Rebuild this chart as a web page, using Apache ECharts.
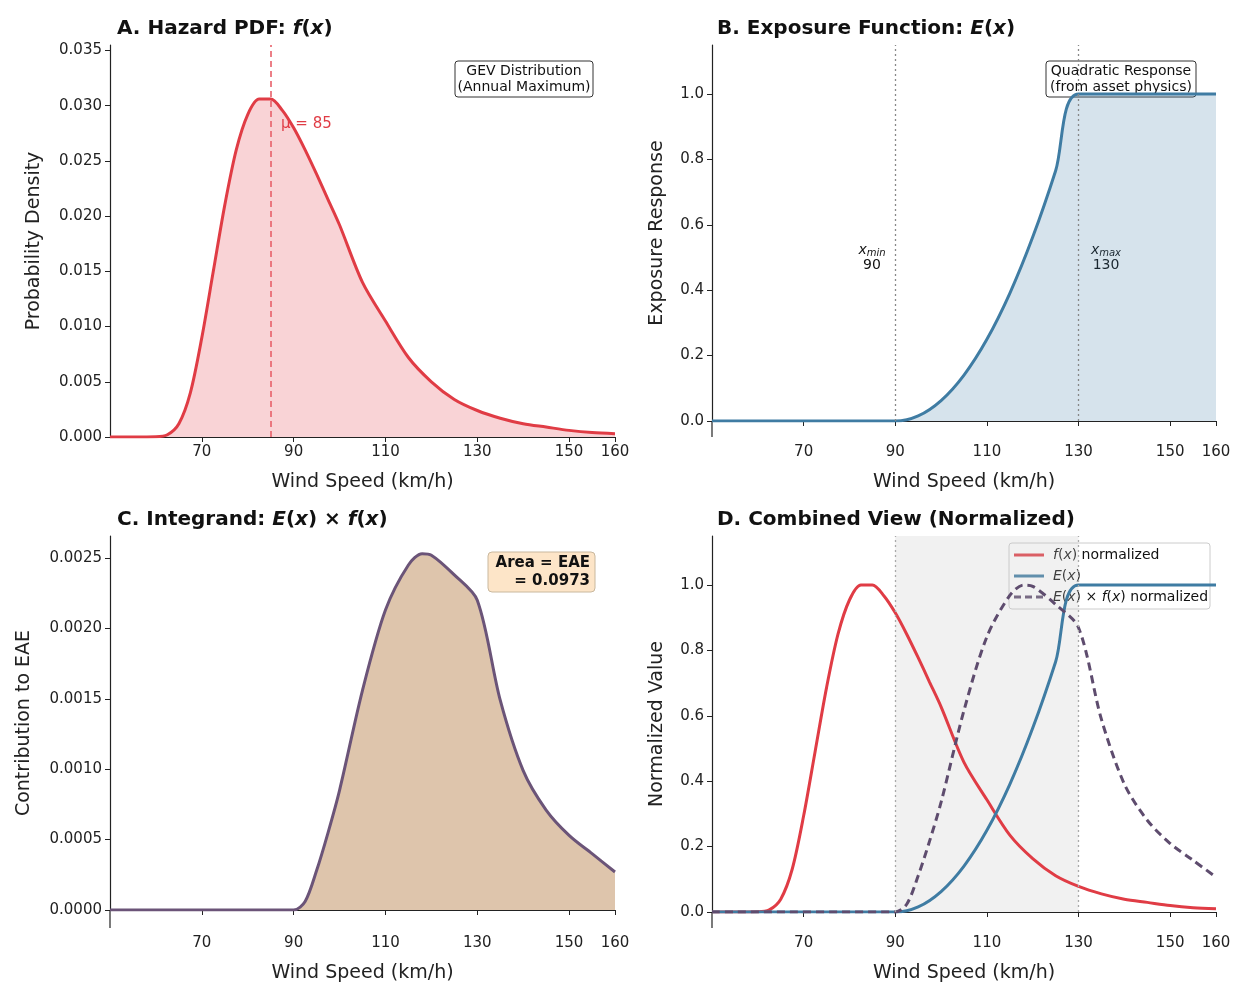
<!DOCTYPE html>
<html><head><meta charset="utf-8">
<script src="https://cdn.jsdelivr.net/npm/echarts@6/dist/echarts.min.js"></script>
<style>html,body{margin:0;background:#fff}#c{width:1250px;height:1000px}</style>
</head><body><div id="c"></div>
<script>
const hazardX = [50,55,60,62.5,65,67.5,70,72.5,75,77.5,80,82.5,85,87.5,90,92.5,95,97.5,100,105,110,115,120,125,130,135,140,145,150,155,160];
const hazardPdf = [0,0,0.00002,0.0002,0.0012,0.0040,0.0090,0.0150,0.0210,0.0260,0.0292,0.0306,0.0306,0.0296,0.0280,0.0260,0.0238,0.0215,0.0192,0.0140,0.0105,0.0072,0.0050,0.0034,0.0024,0.0017,0.0012,0.0009,0.0006,0.0004,0.0003];
const exposureX = [50,90,95,100,105,110,115,120,125,130,160];
const exposure = [0,0,0.0156,0.0625,0.1406,0.25,0.3906,0.5625,0.7656,1,1];
const integrandX = [50,90,92.5,95,97.5,100,105,110,115,118,120,125,130,135,140,145,150,155,160];
const integrand = [0,0,0.00006,0.00028,0.00055,0.00085,0.00156,0.00213,0.00245,0.00253,0.00252,0.00238,0.0022,0.00149,0.00099,0.00071,0.00053,0.0004,0.00027];
const muValue = 85, xMin = 90, xMax = 130;

const pairs = (xs, ys) => xs.map((x, i) => [x, ys[i]]);
const fMax = Math.max(...hazardPdf), iMax = Math.max(...integrand);
const fNorm = hazardPdf.map(v => v / fMax);
const iNorm = integrand.map(v => v / iMax);

const FONT = 'DejaVu Sans';
const RED = '#e03c45', BLUE = '#3f7ca3', PURP = '#6b5478', GREY = '#888';
const grids = [
  {left:110, right:635, top:45, bottom:563},
  {left:712, right:34, top:45, bottom:579},
  {left:110, right:635, top:536, bottom:90},
  {left:712, right:34, top:536, bottom:88}
];
const xOffsets = [0,16,18,16];
const xAxes = grids.map((g,i) => ({
  type:'value', gridIndex:i, min:50, max:160, interval:20, offset:xOffsets[i],
  name:'Wind Speed (km/h)', nameLocation:'middle', nameGap:36,
  nameTextStyle:{fontFamily:FONT, fontSize:19, color:'#222'},
  axisLine:{lineStyle:{color:'#222', width:1.2}},
  axisTick:{length:5, lineStyle:{color:'#222'}},
  axisLabel:{fontFamily:FONT, fontSize:15, color:'#222', margin:8, formatter:v => v===50?'':v, showMinLabel:false},
  splitLine:{show:false}
}));
function yAx(i, max, interval, name, fmt, gap){
  return {type:'value', gridIndex:i, min:0, max:max, interval:interval,
    name:name, nameLocation:'middle', nameGap:gap,
    nameTextStyle:{fontFamily:FONT, fontSize:19, color:'#222'},
    axisLine:{show:true, lineStyle:{color:'#222', width:1.2}},
    axisTick:{show:true, length:5, lineStyle:{color:'#222'}},
    axisLabel:{fontFamily:FONT, fontSize:15, color:'#222', formatter:fmt, showMaxLabel:false},
    splitLine:{show:false}};
}
const yAxes = [
  yAx(0, 0.0355, 0.005, 'Probability Density', v=>v.toFixed(3), 66),
  yAx(1, 1.15, 0.2, 'Exposure Response', v=>v.toFixed(1), 45),
  yAx(2, 0.002656, 0.0005, 'Contribution to EAE', v=>v.toFixed(4), 76),
  yAx(3, 1.15, 0.2, 'Normalized Value', v=>v.toFixed(1), 45)
];
function vline(x, color, type, width){
  return {silent:true, symbol:'none', label:{show:false},
    lineStyle:{color:color, type:type, width:width}, data:[{xAxis:x}]};
}
const series = [
  {type:'line', xAxisIndex:0, yAxisIndex:0, data:pairs(hazardX,hazardPdf), smooth:0.3, symbol:'none',
   lineStyle:{color:RED, width:3}, areaStyle:{color:'rgba(230,60,70,0.32)'}, z:3,
   markLine:vline(muValue,'#e8606a',[6,4],1.6)},
  {type:'line', xAxisIndex:1, yAxisIndex:1, data:pairs(exposureX,exposure), smooth:0.3, symbol:'none',
   lineStyle:{color:BLUE, width:3}, areaStyle:{color:'rgba(63,124,163,0.3)', origin:'start'},
   markLine:{silent:true, symbol:'none', label:{show:false}, lineStyle:{color:GREY,type:[2,3],width:1.3}, data:[{xAxis:xMin},{xAxis:xMax}]}},
  {type:'line', xAxisIndex:2, yAxisIndex:2, data:pairs(integrandX,integrand), smooth:0.3, symbol:'none',
   lineStyle:{color:PURP, width:3}, areaStyle:{color:'rgba(190,140,90,0.72)'}},
  {type:'line', name:'fn', xAxisIndex:3, yAxisIndex:3, data:pairs(hazardX,fNorm), smooth:0.3, symbol:'none',
   lineStyle:{color:RED, width:3},
   markArea:{silent:true, itemStyle:{color:'rgba(200,200,200,0.25)'}, data:[[{xAxis:xMin},{xAxis:xMax}]]},
   markLine:{silent:true, symbol:'none', label:{show:false}, lineStyle:{color:'#aaa',type:[2,3],width:1.3}, data:[{xAxis:xMin},{xAxis:xMax}]}},
  {type:'line', name:'e', xAxisIndex:3, yAxisIndex:3, data:pairs(exposureX,exposure), smooth:0.3, symbol:'none',
   lineStyle:{color:BLUE, width:3}},
  {type:'line', name:'p', xAxisIndex:3, yAxisIndex:3, data:pairs(integrandX,iNorm), smooth:0.3, symbol:'none',
   lineStyle:{color:'#5e4c6e', width:3, type:[8,5]}}
];
const T = {fontFamily:FONT, fontSize:20, fontWeight:'bold', color:'#111'};
const TI = {fontFamily:FONT, fontSize:20, fontStyle:'italic', color:'#111'};
const TN = {fontFamily:FONT, fontSize:20, color:'#111'};
function title(left, top, rich, text){ return {text:text, left:left, top:top, textStyle:{rich:rich}}; }
const titles = [
  {text:'{b|A. Hazard PDF: }{i|f}{n|(}{i|x}{n|)}', left:112, top:14},
  {text:'{b|B. Exposure Function: }{i|E}{n|(}{i|x}{n|)}', left:712, top:14},
  {text:'{b|C. Integrand: }{i|E}{n|(}{i|x}{n|) × }{i|f}{n|(}{i|x}{n|)}', left:112, top:505},
  {text:'{b|D. Combined View (Normalized)}', left:712, top:505}
].map(t => ({...t, textStyle:{rich:{b:T,i:TI,n:TN}}}));
const small = {fontFamily:FONT, fontSize:14, fill:'#111'};
const graphic = [
  {type:'text', left:281, top:117, style:{text:'μ = 85', fontFamily:FONT, fontSize:15, fill:RED}},
  {type:'rect', shape:{x:455, y:61, width:138, height:36, r:3}, style:{fill:'#fff', stroke:'#333', lineWidth:1}},
  {type:'text', x:524, y:79, style:{text:'GEV Distribution\n(Annual Maximum)', ...small, align:'center', verticalAlign:'middle', lineHeight:16}},
  {type:'rect', shape:{x:1046, y:61, width:150, height:36, r:3}, style:{fill:'#fff', stroke:'#333', lineWidth:1}},
  {type:'text', x:1121, y:79, style:{text:'Quadratic Response\n(from asset physics)', ...small, align:'center', verticalAlign:'middle', lineHeight:16}},
  {type:'text', x:872, y:258, style:{text:'{i|x}{s|min}\n90', rich:{i:{fontFamily:FONT,fontSize:14,fontStyle:'italic'},s:{fontFamily:FONT,fontSize:10,fontStyle:'italic',verticalAlign:'bottom'}}, ...small, align:'center', verticalAlign:'middle', lineHeight:15}},
  {type:'text', x:1106, y:258, style:{text:'{i|x}{s|max}\n130', rich:{i:{fontFamily:FONT,fontSize:14,fontStyle:'italic'},s:{fontFamily:FONT,fontSize:10,fontStyle:'italic',verticalAlign:'bottom'}}, ...small, align:'center', verticalAlign:'middle', lineHeight:15}},
  {type:'rect', shape:{x:488, y:552, width:107, height:40, r:4}, style:{fill:'#fde5c8', stroke:'#c9b89e', lineWidth:1}},
  {type:'text', x:590, y:572, style:{text:'Area = EAE\n= 0.0973', fontFamily:FONT, fontSize:15, fontWeight:'bold', fill:'#111', align:'right', verticalAlign:'middle', lineHeight:18}},
  {type:'rect', shape:{x:1009, y:543, width:201, height:66, r:3}, style:{fill:'rgba(255,255,255,0.85)', stroke:'#ccc', lineWidth:1}},
  {type:'line', shape:{x1:1014, y1:555, x2:1044, y2:555}, style:{stroke:RED, lineWidth:3}},
  {type:'line', shape:{x1:1014, y1:576, x2:1044, y2:576}, style:{stroke:BLUE, lineWidth:3}},
  {type:'line', shape:{x1:1014, y1:597, x2:1044, y2:597}, style:{stroke:'#5e4c6e', lineWidth:3, lineDash:[7,4]}},
  {type:'text', x:1053, y:555, style:{text:'{i|f}({i|x}) normalized', rich:{i:{fontStyle:'italic',fontFamily:FONT,fontSize:14}}, ...small, verticalAlign:'middle'}},
  {type:'text', x:1053, y:576, style:{text:'{i|E}({i|x})', rich:{i:{fontStyle:'italic',fontFamily:FONT,fontSize:14}}, ...small, verticalAlign:'middle'}},
  {type:'text', x:1053, y:597, style:{text:'{i|E}({i|x}) × {i|f}({i|x}) normalized', rich:{i:{fontStyle:'italic',fontFamily:FONT,fontSize:14}}, ...small, verticalAlign:'middle'}},
  {type:'line', shape:{x1:712, y1:421, x2:712, y2:437}, style:{stroke:'#222', lineWidth:1.2}},
  {type:'line', shape:{x1:110, y1:910, x2:110, y2:928}, style:{stroke:'#222', lineWidth:1.2}},
  {type:'line', shape:{x1:712, y1:912, x2:712, y2:928}, style:{stroke:'#222', lineWidth:1.2}}
];
const chart = echarts.init(document.getElementById('c'), null, {renderer:'canvas'});
chart.setOption({animation:false, backgroundColor:'#fff', title:titles, grid:grids, xAxis:xAxes, yAxis:yAxes, series:series, graphic:graphic});
</script></body></html>
